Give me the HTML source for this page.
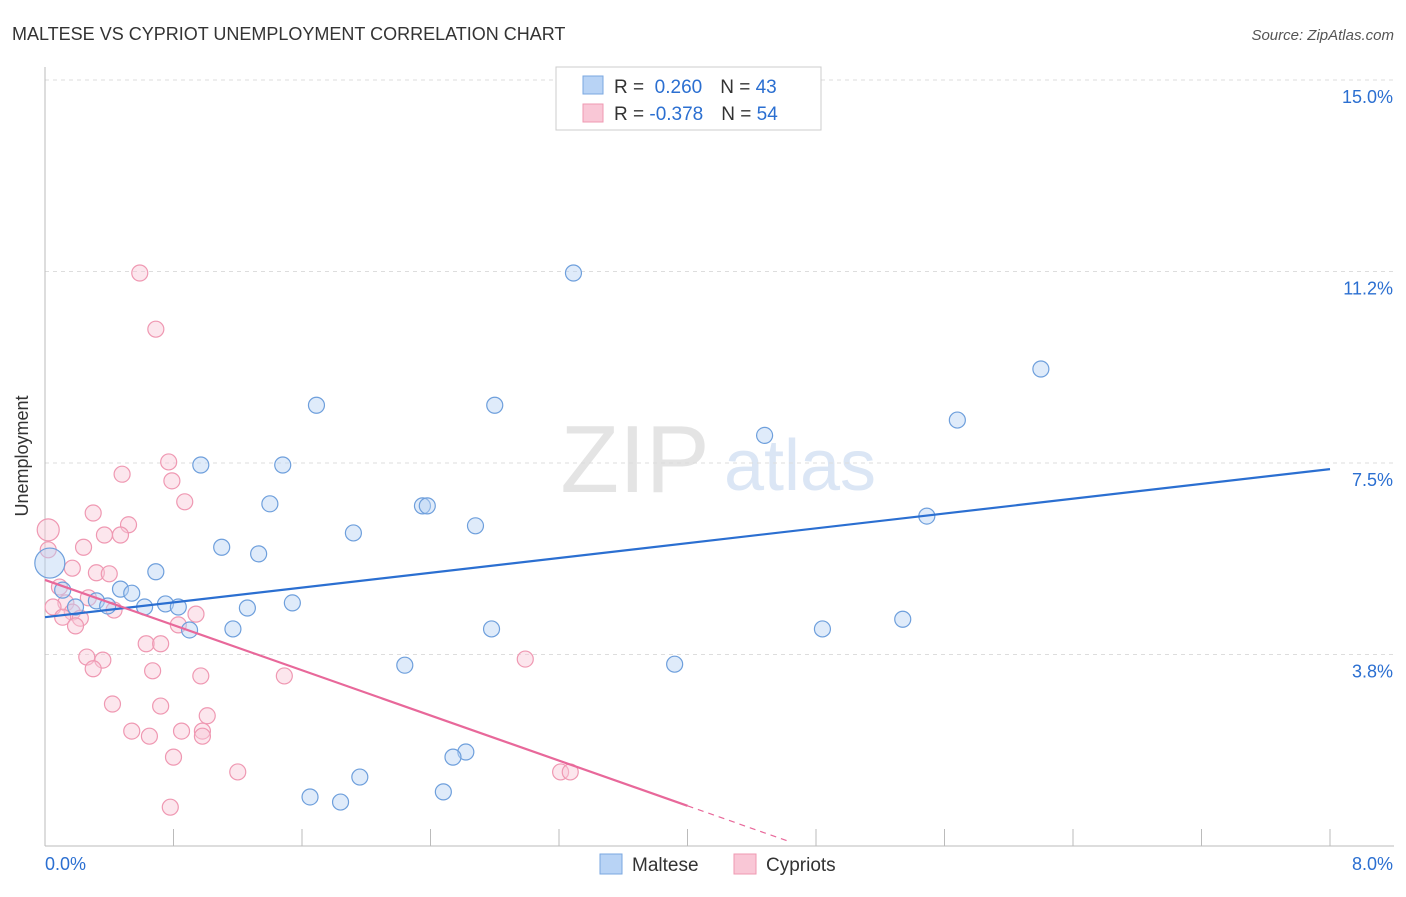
<!DOCTYPE html>
<html><head><meta charset="utf-8"><style>
body{margin:0;background:#fff;font-family:"Liberation Sans",sans-serif}
svg text{font-family:"Liberation Sans",sans-serif}
</style></head><body>
<svg id="c" width="1406" height="892" xmlns="http://www.w3.org/2000/svg">
<text x="12" y="40" font-size="18" fill="#333">MALTESE VS CYPRIOT UNEMPLOYMENT CORRELATION CHART</text>
<text x="1394" y="40" font-size="15" fill="#555" font-style="italic" text-anchor="end">Source: ZipAtlas.com</text>
<text x="635" y="492" font-size="96" fill="#e4e4e4" font-family="Liberation Serif" text-anchor="middle">ZIP</text>
<text x="800" y="490" font-size="72" fill="#dbe6f5" text-anchor="middle">atlas</text>
<text x="28" y="456" font-size="18" fill="#333" transform="rotate(-90 28 456)" text-anchor="middle">Unemployment</text>
<g id="grid"></g><g id="pts"></g><g id="lines"></g>
<g>
<rect x="556" y="67" width="265" height="63" fill="#fff" stroke="#ccc"/>
<rect x="583" y="76" width="20" height="18" fill="#b8d3f5" stroke="#7aa7e0"/>
<rect x="583" y="104" width="20" height="18" fill="#f9c7d6" stroke="#ef98b2"/>
<text x="614" y="93" font-size="19" fill="#333">R = <tspan fill="#2b6fd1">&#160;0.260</tspan><tspan dx="18" fill="#333">N = </tspan><tspan fill="#2b6fd1">43</tspan></text>
<text x="614" y="120" font-size="19" fill="#333">R = <tspan fill="#2b6fd1">-0.378</tspan><tspan dx="18" fill="#333">N = </tspan><tspan fill="#2b6fd1">54</tspan></text>
</g>
<g>
<rect x="600" y="854" width="22" height="20" fill="#b8d3f5" stroke="#7aa7e0"/>
<text x="632" y="871" font-size="19" fill="#333">Maltese</text>
<rect x="734" y="854" width="22" height="20" fill="#f9c7d6" stroke="#ef98b2"/>
<text x="766" y="871" font-size="19" fill="#333">Cypriots</text>
</g>
</svg>
<script>
const yTicks=[15,11.25,7.5,3.75];
const yTickLabels=["15.0%","11.2%","7.5%","3.8%"];
const xTicks=[0,0.8,1.6,2.4,3.2,4.0,4.8,5.6,6.4,7.2,8.0];
const maltX=[3.29,6.20,5.68,1.69,2.80,4.48,0.97,1.48,1.40,2.35,2.38,2.68,5.49,1.92,1.10,1.33,0.69,0.47,0.54,0.11,0.32,0.19,0.39,0.62,0.75,0.83,1.26,1.54,0.90,1.17,2.78,4.84,5.34,2.24,3.92,2.62,2.54,1.96,1.65,1.84,2.48];
const maltY=[11.22,9.34,8.34,8.63,8.63,8.04,7.46,7.46,6.70,6.66,6.66,6.27,6.46,6.13,5.85,5.72,5.37,5.03,4.95,5.01,4.80,4.68,4.70,4.68,4.74,4.68,4.66,4.76,4.23,4.25,4.25,4.25,4.44,3.54,3.56,1.84,1.74,1.35,0.96,0.86,1.06];
const cypX=[0.59,0.69,0.77,0.48,0.79,0.87,0.30,0.52,0.37,0.47,0.24,0.02,0.17,0.32,0.40,0.09,0.27,0.13,0.05,0.43,0.17,0.11,0.22,0.94,0.83,0.19,0.63,0.72,0.26,0.36,0.30,0.67,0.97,1.49,2.99,0.42,0.72,1.01,0.54,0.85,0.65,0.98,0.98,0.80,1.20,3.21,3.27,0.78];
const cypY=[11.22,10.12,7.52,7.28,7.15,6.74,6.52,6.29,6.09,6.09,5.85,5.80,5.44,5.35,5.33,5.07,4.86,4.76,4.68,4.62,4.58,4.48,4.46,4.54,4.33,4.31,3.96,3.96,3.70,3.64,3.47,3.43,3.33,3.33,3.66,2.78,2.74,2.55,2.25,2.25,2.15,2.25,2.15,1.74,1.45,1.45,1.45,0.76];
const maltBig=[0.03,5.54], cypBig=[0.02,6.19];
const maltTrend=[0,4.48,8,7.38];
const cypTrend=[0,5.21,4.0,4.64];
const X=v=>45+v*160.625, Y=v=>846-v*51.07;
const NS="http://www.w3.org/2000/svg";
function mk(t,a,p){const e=document.createElementNS(NS,t);for(const k in a)e.setAttribute(k,a[k]);p.appendChild(e);return e;}
const g=document.getElementById('grid');
yTicks.forEach((v,i)=>{
 const l=mk('line',{x1:45,x2:1394,y1:Y(v),y2:Y(v),stroke:'#ddd','stroke-dasharray':'4,4'},g);
 
 
 const t=mk('text',{x:1393,y:Y(v)+23,'font-size':18,fill:'#2b6fd1','text-anchor':'end'},g);t.textContent=yTickLabels[i];
 
 
});
const ax=mk('line',{x1:45,x2:45,y1:67,y2:846,stroke:'#bbb'},g);


const bx=mk('line',{x1:45,x2:1394,y1:846,y2:846,stroke:'#bbb'},g);


xTicks.slice(1).forEach(v=>{const t=mk('line',{x1:X(v),x2:X(v),y1:829,y2:846,stroke:'#bbb'},g);
 
 });
const xl=mk('text',{x:45,y:870,'font-size':18,fill:'#2b6fd1'},g);xl.textContent='0.0%';


const xr=mk('text',{x:1393,y:870,'font-size':18,fill:'#2b6fd1','text-anchor':'end'},g);xr.textContent='8.0%';


const p=document.getElementById('pts');
function dot(x,y,r,f,s,n){const c=mk('circle',{cx:X(x),cy:Y(y),r:r,fill:f,'fill-opacity':0.45,stroke:s,'stroke-width':1.2},p);
 
 }
cypX.forEach((x,i)=>dot(x,cypY[i],8,'#f9c7d6','#ef98b2','cypriot-point'));
dot(cypBig[0],cypBig[1],11,'#f9c7d6','#ef98b2','cypriot-point');
maltX.forEach((x,i)=>dot(x,maltY[i],8,'#b8d3f5','#6e9fdc','maltese-point'));
dot(maltBig[0],maltBig[1],15,'#b8d3f5','#6e9fdc','maltese-point');
const L=document.getElementById('lines');
const b=mk('line',{x1:X(maltTrend[0]),y1:Y(maltTrend[1]),x2:X(maltTrend[2]),y2:Y(maltTrend[3]),stroke:'#2b6fd1','stroke-width':2.2},L);


const endY=v=>cypTrend[1]+(v/cypTrend[3])*(0.08-cypTrend[1]);
const c1=mk('line',{x1:X(0),y1:Y(cypTrend[1]),x2:X(cypTrend[2]),y2:Y(endY(cypTrend[2])),stroke:'#e8689a','stroke-width':2.2},L);


const c2=mk('line',{x1:X(cypTrend[2]),y1:Y(endY(cypTrend[2])),x2:X(cypTrend[3]),y2:Y(endY(cypTrend[3])),stroke:'#e8689a','stroke-width':1.2,'stroke-dasharray':'6,5'},L);


</script>
</body></html>
